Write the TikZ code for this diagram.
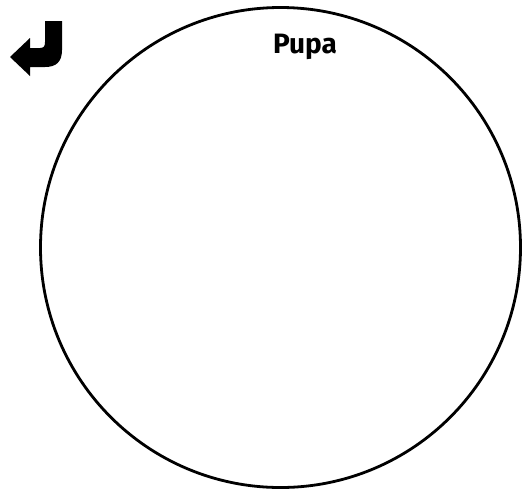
\documentclass[tikz,border=0pt]{standalone}
\usepackage{fontspec}
\setmainfont{Fira Sans}
\begin{document}
\begin{tikzpicture}[x=1pt,y=-1pt,
  ring/.style={draw=black,line width=2.8pt},
  label/.style={font=\fontsize{28}{30}\selectfont\bfseries}]
\useasboundingbox (0,0) rectangle (523,491);
\node[ring,circle,minimum size=480pt,inner sep=0pt] (c) at (280.5,247.5) {};
\node[label] (t) at (305,47) {Pupa};
\fill[black] (45,21) -- (62,21) -- (62,50) .. controls (62,62) and (56,67) .. (45,67)
  -- (30,67) -- (30,76) -- (10,57) -- (30,38) -- (30,48) -- (40,48)
  .. controls (44,48) and (45,46) .. (45,42) -- cycle;
\end{tikzpicture}
\end{document}
